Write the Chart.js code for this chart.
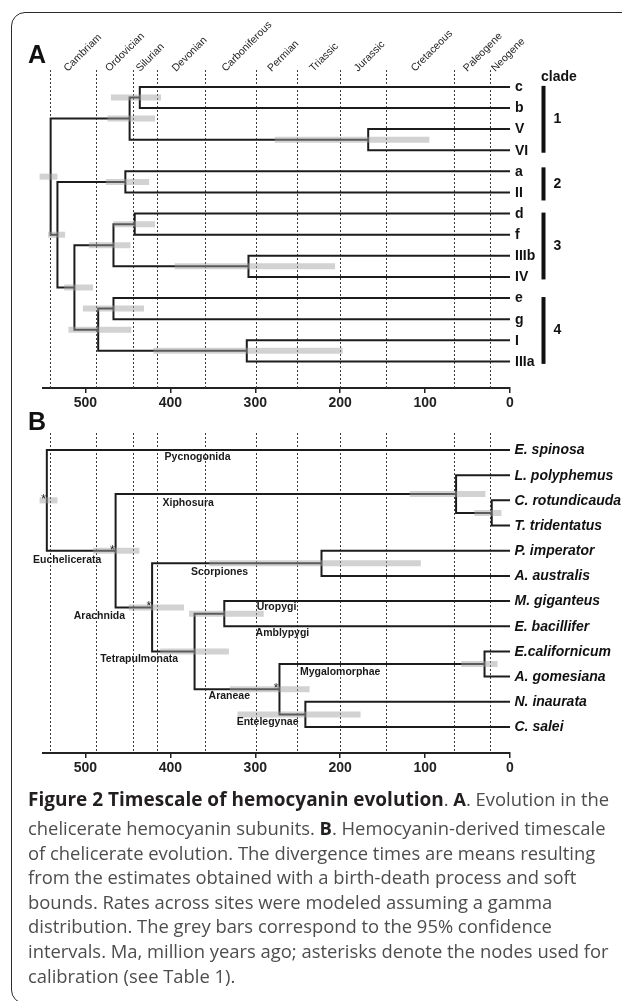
<!DOCTYPE html>
<html><head><meta charset="utf-8">
<script src="https://cdn.jsdelivr.net/npm/chart.js@4.4.0/dist/chart.umd.min.js"></script>
<style>
html,body{margin:0;padding:0;background:#fff;}
body{width:622px;height:1001px;position:relative;overflow:hidden;}
#frame{position:absolute;left:11px;top:12px;width:700px;height:992px;border:1.5px solid #2b2b2b;border-radius:14px;box-sizing:border-box;}
canvas{position:absolute;left:0;}
#cA{top:0;} #cB{top:400px;}
.cap{position:absolute;left:28px;white-space:nowrap;font-family:"Open Sans",sans-serif;font-size:18.4px;color:#4d4d4d;line-height:24px;height:24px;}
.cap b{color:#231f20;}
.cap .t{font-size:19px;}
</style></head><body>
<div id="frame"></div>
<canvas id="cA" width="622" height="418"></canvas>
<canvas id="cB" width="622" height="383"></canvas>
<div class="cap" style="top:787px"><b class="t">Figure 2 Timescale of hemocyanin evolution</b>. <b>A</b>. Evolution in the</div>
<div class="cap" style="top:816px">chelicerate hemocyanin subunits. <b>B</b>. Hemocyanin-derived timescale</div>
<div class="cap" style="top:840.6px">of chelicerate evolution. The divergence times are means resulting</div>
<div class="cap" style="top:865.2px">from the estimates obtained with a birth-death process and soft</div>
<div class="cap" style="top:889.8px">bounds. Rates across sites were modeled assuming a gamma</div>
<div class="cap" style="top:914.4px">distribution. The grey bars correspond to the 95% confidence</div>
<div class="cap" style="top:939px">intervals. Ma, million years ago; asterisks denote the nodes used for</div>
<div class="cap" style="top:963.6px">calibration (see Table 1).</div>
<script>
// ---------- DATA ----------
const axisTicks = [500, 400, 300, 200, 100, 0];
const periodNames = ['Cambriam','Ordovician','Silurian','Devonian','Carboniferous','Permian','Triassic','Jurassic','Cretaceous','Paleogene','Neogene'];
const periodStarts = [542, 488, 444, 416, 359, 299, 251, 200, 146, 66, 23];

// Panel A: hemocyanin subunits
const tipsA = ['c','b','V','VI','a','II','d','f','IIIb','IV','e','g','I','IIIa'];
const nodesA  = ['cb','VVI','c1','c2','df','IIIbIV','c3','eg','IIIaI','c4','c34','c234','rootA'];
const childA1 = ['c','V','cb','a','d','IIIb','df','e','I','eg','c3','c2','c1'];
const childA2 = ['b','VI','VVI','II','f','IV','IIIbIV','g','IIIa','IIIaI','c4','c34','c234'];
const ageA    = [436, 167, 448, 453, 442, 308, 467, 467, 310, 485, 513, 533, 541];
const ciLoA   = [411, 95, 418, 425, 418, 206, 447, 431, 197, 446, 491, 524, 533];
const ciHiA   = [470, 277, 474, 476, 467, 395, 496, 503, 420, 520, 525, 544, 554];
const cladeNames = ['1','2','3','4'];
const cladeFirstTip = ['c','a','d','e'];
const cladeLastTip  = ['VI','II','IV','IIIa'];

// Panel B: chelicerate timescale
const tipsB = ['E. spinosa','L. polyphemus','C. rotundicauda','T. tridentatus','P. imperator','A. australis','M. giganteus','E. bacillifer','E.californicum','A. gomesiana','N. inaurata','C. salei'];
const nodesB  = ['CT','Xiph','Scorp','UroAmb','Mygalo','Entel','Aran','Tetra','Arach','Euch','rootB'];
const childB1 = ['C. rotundicauda','L. polyphemus','P. imperator','M. giganteus','E.californicum','N. inaurata','Mygalo','UroAmb','Scorp','Xiph','E. spinosa'];
const childB2 = ['T. tridentatus','CT','A. australis','E. bacillifer','A. gomesiana','C. salei','Entel','Aran','Tetra','Arach','Euch'];
const ageB    = [21.5, 63.5, 222, 336.5, 30, 241, 271.5, 371.5, 421.5, 464.5, 545.5];
const ciLoB   = [10, 29, 105, 290, 14.5, 176, 236, 331, 384, 436.5, 533];
const ciHiB   = [42, 118, 354, 378, 57.5, 321, 330, 412, 449, 491, 554];
const calibratedB = ['Aran','Arach','Euch','rootB'];
const groupNamesB = ['Pycnogonida','Xiphosura','Scorpiones','Uropygi','Amblypygi','Mygalomorphae','Entelegynae','Araneae','Tetrapulmonata','Arachnida','Euchelicerata'];
// label anchor (age in Ma, row in tip units)
const groupAgeB = [368, 379, 342, 275, 268, 200, 285.5, 330.6, 436.7, 483.6, 521.5];
const groupRowB = [0.28, 2.10, 4.86, 6.23, 7.26, 8.82, 10.80, 9.78, 8.32, 6.59, 4.37];

// ---------- BUILD ----------
const LINE = '#1c1c1c';
function buildTree(tips, nodes, c1, c2, ages, lo, hi){
  const pos = {};
  tips.forEach((t,i)=>{ pos[t] = {x:0, y:i}; });
  nodes.forEach((n,k)=>{ pos[n] = {x:ages[k], y:(pos[c1[k]].y + pos[c2[k]].y)/2}; });
  const ds = [];
  nodes.forEach((n,k)=>{
    const a = pos[c1[k]], b = pos[c2[k]], x = ages[k];
    ds.push({data:[{x:a.x,y:a.y},{x:x,y:a.y},{x:x,y:b.y},{x:b.x,y:b.y}],
      showLine:true, borderColor:LINE, borderWidth:2, pointRadius:0, tension:0,
      borderJoinStyle:'miter', borderCapStyle:'butt', clip:false, order:1});
  });
  nodes.forEach((n,k)=>{
    ds.push({data:[{x:hi[k],y:pos[n].y},{x:lo[k],y:pos[n].y}],
      showLine:true, borderColor:'rgba(160,160,160,0.48)', borderWidth:6, pointRadius:0,
      borderCapStyle:'butt', clip:false, order:0});
  });
  return {pos, ds};
}
const treeA = buildTree(tipsA, nodesA, childA1, childA2, ageA, ciLoA, ciHiA);
const treeB = buildTree(tipsB, nodesB, childB1, childB2, ageB, ciLoB, ciHiB);

function dashPlugin(){
  return { id:'dashes', beforeDatasetsDraw(chart){
    const {ctx, chartArea:ca, scales:{x}} = chart;
    ctx.save(); ctx.strokeStyle='#3a3a3a'; ctx.lineWidth=1; ctx.setLineDash([2,2]);
    periodStarts.forEach(v=>{
      const px = Math.round(x.getPixelForValue(v)) + 0.5;
      ctx.beginPath(); ctx.moveTo(px, ca.top); ctx.lineTo(px, ca.bottom); ctx.stroke();
    });
    ctx.restore();
  }};
}

const decorA = { id:'decorA', afterDatasetsDraw(chart){
  const {ctx, scales:{x,y}} = chart;
  ctx.save();
  ctx.fillStyle='#111'; ctx.textBaseline='alphabetic'; ctx.textAlign='left';
  ctx.font='bold 25px Arial, "Liberation Sans", sans-serif';
  ctx.fillText('A', 28, 63);
  // period labels
  ctx.font='10.5px Arial, "Liberation Sans", sans-serif'; ctx.fillStyle='#262626';
  periodNames.forEach((nm,i)=>{
    const s = periodStarts[i], e = i+1 < periodStarts.length ? periodStarts[i+1] : 0;
    const px = x.getPixelForValue((s+e)/2) - 5;
    ctx.save(); ctx.translate(px, 72); ctx.rotate(-Math.PI/4); ctx.fillText(nm, 0, 0); ctx.restore();
  });
  // tip labels
  ctx.font='bold 14px Arial, "Liberation Sans", sans-serif'; ctx.fillStyle='#111'; ctx.textBaseline='middle';
  tipsA.forEach((t,i)=>{ ctx.fillText(t, x.getPixelForValue(0)+5, y.getPixelForValue(i)+0.5); });
  // clades
  ctx.fillText('clade', 541, 77);
  ctx.strokeStyle='#111'; ctx.lineWidth=4;
  cladeNames.forEach((c,k)=>{
    const y1 = y.getPixelForValue(treeA.pos[cladeFirstTip[k]].y) - (k===1?4:1);
    const y2 = y.getPixelForValue(treeA.pos[cladeLastTip[k]].y) + (k===1?8:2.5);
    ctx.beginPath(); ctx.moveTo(543.5, y1); ctx.lineTo(543.5, y2); ctx.stroke();
    ctx.fillText(c, 553.5, (y1+y2)/2);
  });
  ctx.restore();
}};

const decorB = { id:'decorB', afterDatasetsDraw(chart){
  const {ctx, scales:{x,y}} = chart;
  ctx.save();
  ctx.fillStyle='#111'; ctx.textBaseline='alphabetic'; ctx.textAlign='left';
  ctx.font='bold 25px Arial, "Liberation Sans", sans-serif';
  ctx.fillText('B', 28, 30);
  ctx.font='italic bold 14px Arial, "Liberation Sans", sans-serif'; ctx.textBaseline='middle';
  tipsB.forEach((t,i)=>{ ctx.fillText(t, x.getPixelForValue(0)+4.5, y.getPixelForValue(i)+0.5); });
  ctx.font='bold 10.5px Arial, "Liberation Sans", sans-serif'; ctx.fillStyle='#1a1a1a'; ctx.textAlign='center';
  groupNamesB.forEach((g,i)=>{ ctx.fillText(g, x.getPixelForValue(groupAgeB[i]), y.getPixelForValue(groupRowB[i])); });
  ctx.font='12px Arial, "Liberation Sans", sans-serif'; ctx.textAlign='right'; ctx.textBaseline='alphabetic';
  calibratedB.forEach(n=>{
    const p = treeB.pos[n];
    ctx.fillText('*', x.getPixelForValue(p.x)-1, y.getPixelForValue(p.y)+3);
  });
  ctx.restore();
}};

function makeOptions(padTop, ymin, ymax){
  return {
    responsive:false, animation:false, events:[],
    layout:{padding:{left:43, right:112, top:padTop, bottom:0}},
    plugins:{legend:{display:false}, tooltip:{enabled:false}},
    scales:{
      x:{type:'linear', reverse:true, min:0, max:550,
        afterBuildTicks:s=>{ s.ticks = axisTicks.map(v=>({value:v})); },
        afterFit:s=>{ s.height = 30; },
        grid:{drawOnChartArea:false, drawTicks:true, tickLength:5, color:'#222', lineWidth:1.5},
        border:{display:true, color:'#222', width:2},
        ticks:{font:{family:'Arial', size:14, weight:'bold'}, color:'#222', padding:2, maxRotation:0, autoSkip:false}},
      y:{type:'linear', reverse:true, min:ymin, max:ymax, display:false}
    }
  };
}

new Chart(document.getElementById('cA'), {
  type:'scatter', data:{datasets:treeA.ds},
  options:makeOptions(70, -0.8, 14.26), plugins:[dashPlugin(), decorA]
});
new Chart(document.getElementById('cB'), {
  type:'scatter', data:{datasets:treeB.ds},
  options:makeOptions(33, -0.676, 12.034), plugins:[dashPlugin(), decorB]
});
</script>
</body></html>
